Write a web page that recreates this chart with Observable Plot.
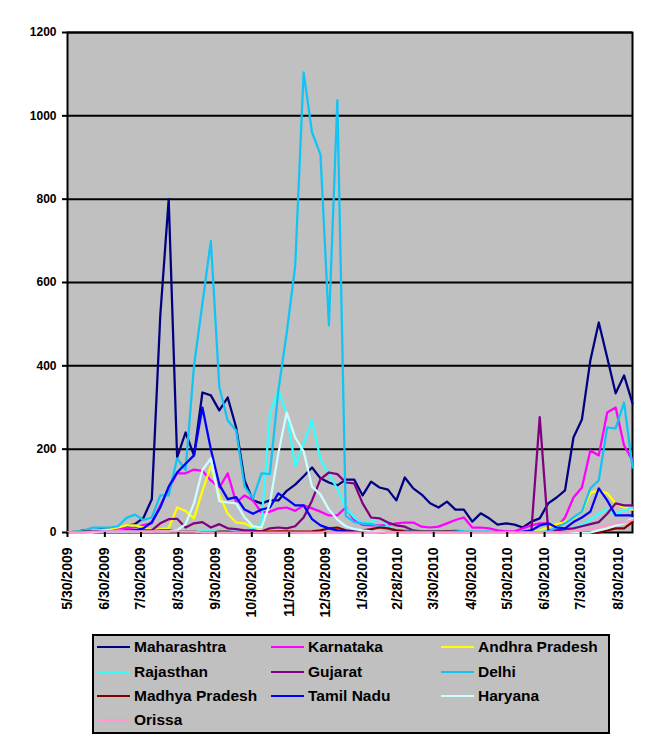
<!DOCTYPE html>
<html>
<head>
<meta charset="utf-8">
<script src="https://cdn.jsdelivr.net/npm/d3@7"></script>
<script src="https://cdn.jsdelivr.net/npm/@observablehq/plot@0.6"></script>
<style>
  body { margin: 0; background: #fff; font-family: "Liberation Sans", Arial, sans-serif; }
  #chart svg text { font-weight: bold; }
  #legend { position: absolute; left: 92px; top: 634px; width: 514px; height: 96px;
            background: #c0c0c0; border: 2px solid #000; }
  .item { position: absolute; height: 20px; display: flex; align-items: center;
          font: bold 15.5px "Liberation Sans", Arial, sans-serif; color: #000; white-space: nowrap; }
  .item .sw { width: 33px; height: 2.5px; margin-right: 4px; }
</style>
</head>
<body>
<div id="chart"></div>
<div id="legend"></div>
<script>
// Weekly dates (categories)
const dates = [
  "2009-05-30","2009-06-06","2009-06-13","2009-06-20","2009-06-27","2009-07-04","2009-07-11","2009-07-18","2009-07-25","2009-08-01",
  "2009-08-08","2009-08-15","2009-08-22","2009-08-29","2009-09-05","2009-09-12","2009-09-19","2009-09-26","2009-10-03","2009-10-10",
  "2009-10-17","2009-10-24","2009-10-31","2009-11-07","2009-11-14","2009-11-21","2009-11-28","2009-12-05","2009-12-12","2009-12-19",
  "2009-12-26","2010-01-02","2010-01-09","2010-01-16","2010-01-23","2010-01-30","2010-02-06","2010-02-13","2010-02-20","2010-02-27",
  "2010-03-06","2010-03-13","2010-03-20","2010-03-27","2010-04-03","2010-04-10","2010-04-17","2010-04-24","2010-05-01","2010-05-08",
  "2010-05-15","2010-05-22","2010-05-29","2010-06-05","2010-06-12","2010-06-19","2010-06-26","2010-07-03","2010-07-10","2010-07-17",
  "2010-07-24","2010-07-31","2010-08-07","2010-08-14","2010-08-21","2010-08-28","2010-09-04","2010-09-11"
];

// Series values
const maharashtra = [0,2,5,5,8,10,12,15,20,35, 80,520,800,180,240,185,336,329,293,324, 252,125,77,70,77,77,100,115,135,156, 130,120,113,127,127,89,122,108,103,77, 132,106,91,70,60,74,55,55,26,46, 34,19,22,19,12,26,34,70,84,101, 228,271,413,504,420,334,377,310];
const karnataka   = [0,2,3,5,5,8,10,10,12,18, 22,65,105,142,142,151,148,125,108,142, 72,89,77,48,50,58,60,52,65,58, 50,41,41,60,30,18,17,17,18,22, 24,24,14,12,14,22,30,36,12,12, 10,5,3,3,10,17,22,22,12,36, 84,108,197,185,288,300,209,173];
const andhra      = [0,2,3,5,5,8,12,17,17,12, 5,8,10,60,52,34,100,160,90,45, 24,22,12,5,3,2,2,1,0,0, 0,0,0,0,0,0,0,0,0,0, 0,0,0,0,0,0,0,0,0,0, 0,0,0,0,0,0,5,12,20,25, 34,50,95,101,94,70,60,55];
const rajasthan   = [0,0,2,3,3,3,3,3,5,5, 5,3,3,5,5,3,3,3,2,2, 3,5,8,20,285,341,285,160,215,269, 175,140,105,58,36,22,25,36,15,5, 3,2,2,2,0,0,0,0,0,0, 0,0,0,0,0,0,2,3,5,8, 10,20,30,45,55,45,53,60];
const gujarat     = [0,0,2,2,2,3,3,3,5,5, 5,22,32,33,12,22,25,12,20,10, 8,5,5,3,10,12,10,15,36,77, 128,144,140,120,118,70,36,34,24,17, 14,5,3,2,2,0,0,0,0,0, 0,0,0,0,0,2,277,5,5,8, 10,15,20,25,45,70,65,65];
const delhi       = [0,2,5,12,12,12,15,35,43,30, 36,89,89,178,150,400,550,700,350,269, 245,110,82,142,140,340,480,640,1104,960, 907,497,1037,40,25,22,20,15,10,5, 5,3,3,3,3,3,5,3,2,2, 2,0,0,0,0,0,0,2,12,22, 36,50,106,125,252,250,312,156];
const madhya      = [0,0,2,2,3,3,3,5,5,3, 3,5,5,3,2,2,0,0,2,2, 0,0,0,2,2,3,3,2,2,3, 5,10,12,5,3,5,8,12,10,5, 3,2,2,2,2,3,2,0,0,0, 0,0,0,0,0,0,0,0,0,0, 0,0,0,0,5,10,10,25];
const tamilnadu   = [0,0,0,2,2,2,3,3,5,10, 25,60,110,144,165,185,300,200,115,80, 85,55,45,55,60,94,80,65,65,32, 17,10,5,3,2,2,2,0,0,0, 0,0,0,0,0,0,0,0,0,0, 0,0,0,0,2,5,17,22,12,10, 25,36,50,106,77,41,41,41];
const haryana     = [0,0,0,0,2,2,2,2,2,2, 2,3,3,5,20,70,150,178,75,72, 70,36,15,12,70,190,288,228,195,110, 91,55,31,15,8,5,3,2,0,0, 0,0,0,0,0,0,0,0,0,0, 0,0,0,0,0,0,0,0,0,0, 0,0,0,5,10,17,22,34];
const orissa      = [0,0,0,2,2,3,3,3,2,2, 2,2,2,2,2,2,0,0,0,0, 0,0,0,0,0,0,0,0,0,0, 0,0,0,0,0,0,0,0,0,0, 0,0,0,0,0,0,0,0,0,0, 0,0,0,0,0,0,0,0,0,0, 3,5,10,12,17,22,24,30];

const seriesNames  = ["Maharashtra","Karnataka","Andhra Pradesh","Rajasthan","Gujarat","Delhi","Madhya Pradesh","Tamil Nadu","Haryana","Orissa"];
const seriesColors = ["#000080","#ff00ff","#ffff00","#33ffff","#800080","#11c4f4","#800000","#0000ff","#ccffff","#ff99cc"];
const seriesValues = [maharashtra,karnataka,andhra,rajasthan,gujarat,delhi,madhya,tamilnadu,haryana,orissa];

// Axis ticks
const yTicks = [0,200,400,600,800,1000,1200];
const xTickDates = ["2009-05-30","2009-06-30","2009-07-30","2009-08-30","2009-09-30","2009-10-30","2009-11-30","2009-12-30",
                    "2010-01-30","2010-02-28","2010-03-30","2010-04-30","2010-05-30","2010-06-30","2010-07-30","2010-08-30"];
const xTickLabels = ["5/30/2009","6/30/2009","7/30/2009","8/30/2009","9/30/2009","10/30/2009","11/30/2009","12/30/2009",
                     "1/30/2010","2/28/2010","3/30/2010","4/30/2010","5/30/2010","6/30/2010","7/30/2010","8/30/2010"];

const parse = s => new Date(s + "T00:00:00Z");
const labelMap = new Map(xTickDates.map((d, i) => [+parse(d), xTickLabels[i]]));

const lineMarks = seriesNames.map((name, si) =>
  Plot.line(dates.map((d, i) => ({date: parse(d), value: seriesValues[si][i], series: name})),
    {x: "date", y: "value", stroke: seriesColors[si], strokeWidth: 2.25})
);

const chart = Plot.plot({
  width: 665,
  height: 634,
  marginLeft: 67,
  marginRight: 33,
  marginTop: 32,
  marginBottom: 102,
  style: {fontFamily: "'Liberation Sans', Arial, sans-serif", background: "#fff", color: "#000", overflow: "visible"},
  x: {type: "utc", domain: [parse(dates[0]), parse(dates[dates.length - 1])]},
  y: {domain: [0, 1200]},
  marks: [
    Plot.frame({fill: "#c0c0c0"}),
    Plot.ruleY(yTicks.slice(1), {stroke: "#000", strokeWidth: 2}),
    Plot.frame({stroke: "#000", strokeWidth: 2}),
    ...lineMarks,
    Plot.axisY({ticks: yTicks, tickSize: 5, tickPadding: 6, fontSize: 12, fontWeight: "bold",
                strokeWidth: 2, tickFormat: d => String(d), label: null}),
    Plot.axisX({ticks: xTickDates.map(parse), tickSize: 5, tickPadding: 10, tickRotate: -90,
                fontSize: 14, fontWeight: "bold", strokeWidth: 2,
                tickFormat: d => labelMap.get(+d), label: null})
  ]
});
document.getElementById("chart").appendChild(chart);

// Legend (below the chart)
const legend = document.getElementById("legend");
const colX = [3, 177, 347];
const rowY = [1, 26, 50, 74];
seriesNames.forEach((name, i) => {
  const item = document.createElement("div");
  item.className = "item";
  item.style.left = colX[i % 3] + "px";
  item.style.top = rowY[Math.floor(i / 3)] + "px";
  const sw = document.createElement("span");
  sw.className = "sw";
  sw.style.background = seriesColors[i];
  const label = document.createElement("span");
  label.textContent = name;
  item.appendChild(sw);
  item.appendChild(label);
  legend.appendChild(item);
});
</script>
</body>
</html>
